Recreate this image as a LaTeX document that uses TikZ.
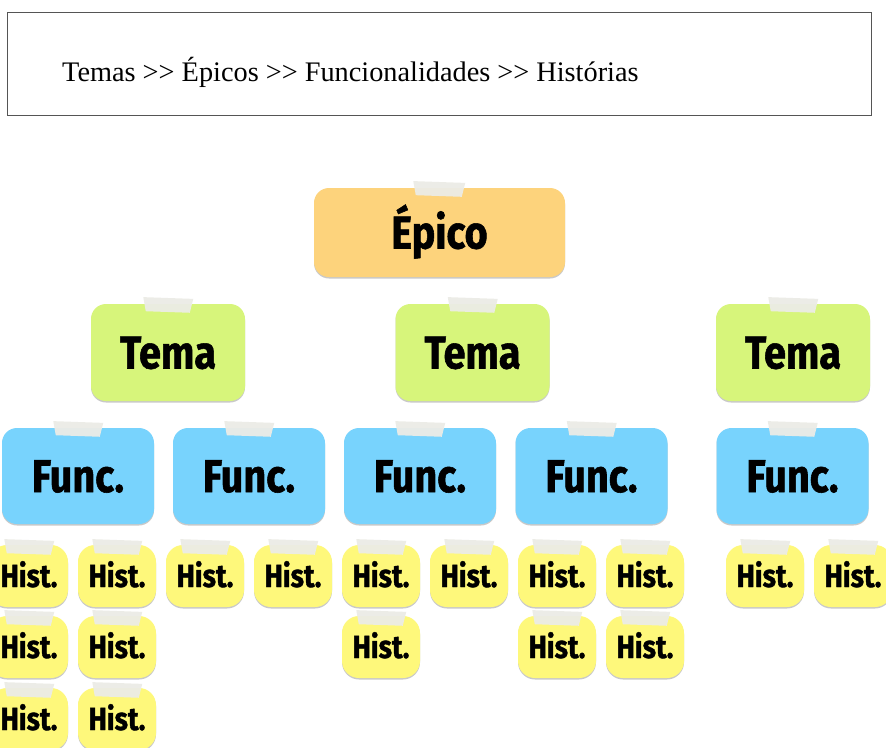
\documentclass[tikz,border=0pt]{standalone}
\usepackage{fontspec}
\setmainfont{Liberation Serif}
\newfontfamily\stickyfont[FakeStretch=0.86,FakeBold=1.2]{Fira Sans}
\usetikzlibrary{shadows}
\definecolor{epicoC}{HTML}{FDD37C}
\definecolor{temaC}{HTML}{D7F57B}
\definecolor{funcC}{HTML}{78D3FD}
\definecolor{histC}{HTML}{FEF87B}
\definecolor{tapeC}{HTML}{ECECE6}
\definecolor{frameC}{HTML}{555555}
\newcommand{\gtgt}{>\kern0pt>}
\tikzset{
  card/.style={draw=none, inner sep=0pt, text depth=0pt,
    drop shadow={shadow xshift=0pt, shadow yshift=-1.5pt, opacity=0.35, fill=black!60}},
  bigcard/.style={card, rounded corners=15pt, text height=32pt,
    font=\stickyfont\bfseries\fontsize{46}{46}\selectfont},
  epicobox/.style={bigcard, fill=epicoC, minimum width=251pt, minimum height=89pt},
  temabox/.style={bigcard, fill=temaC, minimum width=154pt, minimum height=97pt},
  funcbox/.style={bigcard, fill=funcC, minimum width=152pt, minimum height=96pt},
  histbox/.style={card, fill=histC, rounded corners=17pt, minimum width=78pt, minimum height=62pt,
    text height=22pt, font=\stickyfont\bfseries\fontsize{32}{32}\selectfont},
  tapefill/.style={fill=tapeC, opacity=0.95},
}
\newcommand{\tapeat}[3]{%
  \fill[tapefill, rotate around={-2:(#1,#2)}]
    (#1-#3,#2-7) -- (#1+#3,#2-7) -- (#1+#3-3,#2+7) -- (#1-#3+3,#2+7) -- cycle;}
\begin{document}
\begin{tikzpicture}[x=1pt,y=-1pt]
\useasboundingbox (0,0) rectangle (886,747);
\clip (0,0) rectangle (886,747);
\fill[white] (0,0) rectangle (886,747);
% title frame
\node[draw=frameC, line width=1pt, minimum width=864pt, minimum height=103pt, anchor=north west, inner sep=0pt] (frame) at (7,12) {};
\node[anchor=base west, inner sep=0pt, font=\fontsize{28.3}{28.3}\selectfont] (title) at (62,81)
  {Temas \gtgt{} Épicos \gtgt{} Funcionalidades \gtgt{} Histórias};
% epico
\node[epicobox] (epico) at (439.5,232.5) {Épico};
\tapeat{439}{189}{26}
% temas
\node[temabox] (tema1) at (168,352.5) {Tema};
\node[temabox] (tema2) at (472.5,352.5) {Tema};
\node[temabox] (tema3) at (793,352.5) {Tema};
\tapeat{168}{305}{25}
\tapeat{472.5}{305}{25}
\tapeat{793}{305}{25}
% funcs
\node[funcbox] (func1) at (78,476) {Func.};
\node[funcbox] (func2) at (249,476) {Func.};
\node[funcbox] (func3) at (420,476) {Func.};
\node[funcbox] (func4) at (591.5,476) {Func.};
\node[funcbox] (func5) at (792.5,476) {Func.};
\foreach \xx in {78,249,420,591.5,792.5} {\tapeat{\xx}{429}{25}}
% histories row 1
\foreach \xx [count=\i] in {29,117,205,293,381,469,557,645,765,853} {
  \node[histbox] (hA\i) at (\xx,576) {Hist.};
  \tapeat{\xx}{547}{25}
}
% row 2
\foreach \xx [count=\i] in {29,117,381,557,645} {
  \node[histbox] (hB\i) at (\xx,647) {Hist.};
  \tapeat{\xx}{618}{25}
}
% row 3
\foreach \xx [count=\i] in {29,117} {
  \node[histbox] (hC\i) at (\xx,719) {Hist.};
  \tapeat{\xx}{690}{25}
}
\end{tikzpicture}
\end{document}
